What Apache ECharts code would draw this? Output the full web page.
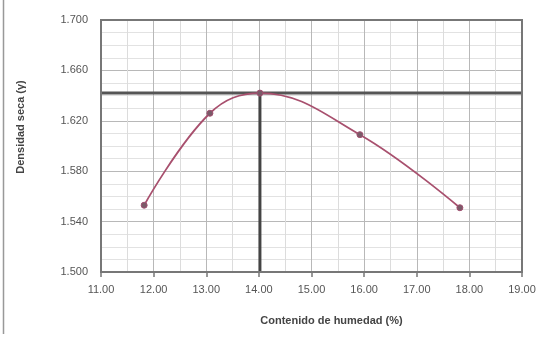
<!DOCTYPE html>
<html>
<head>
<meta charset="utf-8">
<script src="https://cdn.jsdelivr.net/npm/echarts@6/dist/echarts.min.js"></script>
<style>html,body{margin:0;padding:0;background:#fff}#c{width:543px;height:339px}</style>
</head>
<body>
<div id="c"></div>
<script>
var humedad = [11.82, 13.07, 14.02, 15.92, 17.82];
var densidad = [1.553, 1.626, 1.642, 1.609, 1.551];
var humedadOptima = 14.02;
var densidadMaxima = 1.642;
var xMin = 11, xMax = 19, yMin = 1.5, yMax = 1.7;

var chart = echarts.init(document.getElementById('c'));
var pts = humedad.map(function (h, i) { return [h, densidad[i]]; });
var font = 'Liberation Sans';
chart.setOption({
  animation: false,
  grid: { left: 101, right: 21, top: 20, bottom: 67, containLabel: false, outerBoundsMode: 'none' },
  xAxis: {
    type: 'value', min: xMin, max: xMax, interval: 1,
    axisLine: { show: true, onZero: false, lineStyle: { color: '#777', width: 2 } },
    axisTick: { show: true, length: 5, lineStyle: { color: '#777', width: 1.5 } },
    axisLabel: { formatter: function (v) { return v.toFixed(2); }, color: '#555', fontSize: 11, fontFamily: font, margin: 12 },
    splitLine: { show: true, lineStyle: { color: '#b8b8b8', width: 1 } },
    minorTick: { show: false, splitNumber: 2 },
    minorSplitLine: { show: true, lineStyle: { color: '#dcdcdc', width: 1 } },
    name: 'Contenido de humedad (%)', nameLocation: 'middle', nameGap: 43,
    nameTextStyle: { color: '#444', fontSize: 11, fontWeight: 'bold', fontFamily: font, padding: [0, 0, 0, 40] }
  },
  yAxis: {
    type: 'value', min: yMin, max: yMax, interval: 0.04,
    axisLine: { show: true, onZero: false, lineStyle: { color: '#777', width: 2 } },
    axisTick: { show: false },
    axisLabel: { formatter: function (v) { return v.toFixed(3); }, color: '#555', fontSize: 11, fontFamily: font, margin: 13 },
    splitLine: { show: true, lineStyle: { color: '#b8b8b8', width: 1 } },
    minorTick: { show: false, splitNumber: 4 },
    minorSplitLine: { show: true, lineStyle: { color: '#e2e2e2', width: 1 } }
  },
  graphic: [
    { type: 'line', shape: { x1: 3.5, y1: 0, x2: 3.5, y2: 334 }, style: { stroke: '#999', lineWidth: 1.5 } },
    { type: 'rect', shape: { x: 101, y: 20, width: 421, height: 252 }, style: { fill: 'none', stroke: '#777', lineWidth: 2 }, z: 10 },
    { type: 'text', x: 21, y: 127, rotation: Math.PI / 2,
      style: { text: 'Densidad seca (γ)', fill: '#444', font: 'bold 11px "Liberation Sans"', align: 'center', verticalAlign: 'middle' } }
  ],
  series: [
    {
      type: 'line', data: [[xMin, densidadMaxima], [xMax, densidadMaxima]],
      symbol: 'none', lineStyle: { color: '#555', width: 3 }, z: 3
    },
    {
      type: 'line', data: [[humedadOptima, yMin], [humedadOptima, densidadMaxima]],
      symbol: 'none', lineStyle: { color: '#444', width: 3 }, z: 3
    },
    {
      type: 'line', data: pts, smooth: 0.4,
      symbol: 'circle', symbolSize: 6,
      itemStyle: { color: '#7a5a68', borderColor: '#a05070', borderWidth: 1 },
      lineStyle: { color: '#a8506e', width: 1.8 }, z: 5
    }
  ]
});
</script>
</body>
</html>
